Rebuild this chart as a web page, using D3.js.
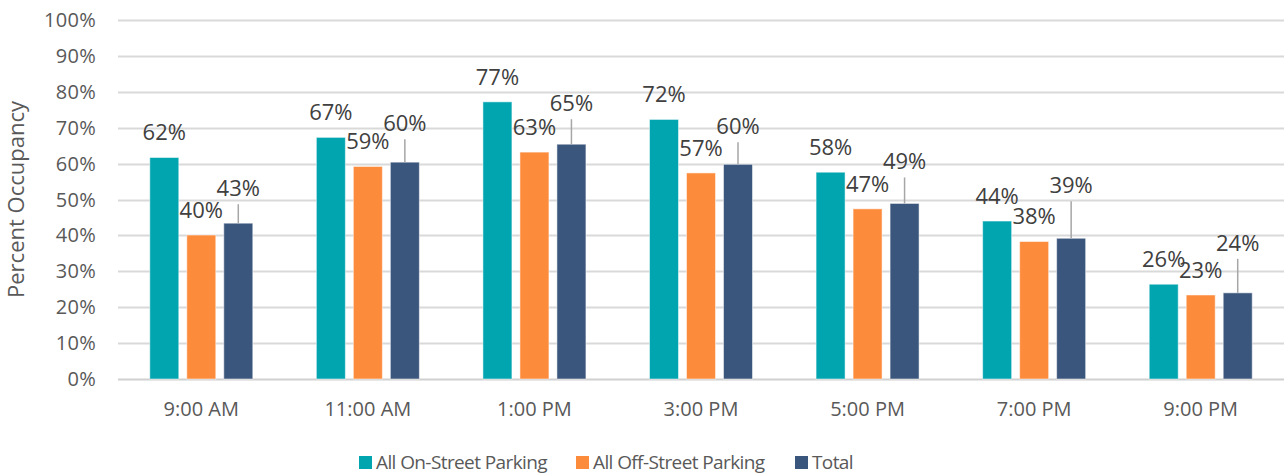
<!DOCTYPE html>
<html>
<head>
<meta charset="utf-8">
<script src="https://cdn.jsdelivr.net/npm/d3@7"></script>
<style>
  body { margin: 0; background: #fff; }
  svg { font-family: "Open Sans", Lato, sans-serif; }
</style>
</head>
<body>
<script>
// chart values
var times = ["9:00 AM", "11:00 AM", "1:00 PM", "3:00 PM", "5:00 PM", "7:00 PM", "9:00 PM"];
var seriesNames = ["All On-Street Parking", "All Off-Street Parking", "Total"];
var onStreet = [61.7, 67.3, 77.2, 72.3, 57.6, 44.0, 26.4];
var offStreet = [40.1, 59.2, 63.2, 57.4, 47.4, 38.3, 23.4];
var total = [43.4, 60.4, 65.4, 59.8, 48.9, 39.2, 24.0];
var yTicks = [0, 10, 20, 30, 40, 50, 60, 70, 80, 90, 100];
// how far the Total labels sit above their bars (leader lines)
var totalLabelLift = [35, 39, 41, 38, 42, 53, 50];

var colors = ["#00a5b0", "#fd8b3c", "#3b567c"];

var width = 1284, height = 475;
var margin = {top: 20, right: 0, bottom: 96, left: 118};

var svg = d3.select("body").append("svg")
    .attr("width", width)
    .attr("height", height);

var x = d3.scaleBand()
    .domain(times)
    .range([margin.left, width - margin.right])
    .paddingInner(0)
    .paddingOuter(0);

var x1 = d3.scaleBand()
    .domain(seriesNames)
    .range([x.bandwidth() / 2 - 51.5, x.bandwidth() / 2 + 51.5])
    .paddingInner(8 / 37)
    .paddingOuter(0);

var y = d3.scaleLinear()
    .domain([0, 100])
    .range([height - margin.bottom, margin.top]);

// gridlines
svg.append("g")
  .selectAll("line")
  .data(yTicks)
  .enter().append("line")
    .attr("x1", margin.left)
    .attr("x2", width - margin.right)
    .attr("y1", d => Math.round(y(d)) + 0.5)
    .attr("y2", d => Math.round(y(d)) + 0.5)
    .attr("stroke", d => d === 0 ? "#d0d0d0" : "#d9d9d9")
    .attr("stroke-width", 2);

// y tick labels
svg.append("g")
  .selectAll("text")
  .data(yTicks)
  .enter().append("text")
    .attr("x", 96)
    .attr("y", d => y(d))
    .attr("dy", "0.35em")
    .attr("text-anchor", "end")
    .attr("fill", "#595959")
    .style("font-size", "20px")
    .style("letter-spacing", "0.3px")
    .text(d => d + "%");

// y axis title
svg.append("text")
  .attr("transform", "translate(24," + (margin.top + (height - margin.bottom - margin.top) / 2) + ") rotate(-90)")
  .attr("text-anchor", "middle")
  .attr("fill", "#595959")
  .style("font-size", "22px")
  .text("Percent Occupancy");

// x labels
svg.append("g")
  .selectAll("text")
  .data(times)
  .enter().append("text")
    .attr("x", d => x(d) + x.bandwidth() / 2)
    .attr("y", 416)
    .attr("text-anchor", "middle")
    .attr("fill", "#595959")
    .style("font-size", "20px")
    .text(d => d);

var series = [onStreet, offStreet, total];

var rows = times.map(function(t, i) {
  return seriesNames.map(function(s, k) {
    return {time: t, name: s, k: k, i: i, value: series[k][i]};
  });
});

var groups = svg.append("g")
  .selectAll("g")
  .data(rows)
  .enter().append("g")
    .attr("transform", (d, i) => "translate(" + x(times[i]) + ",0)");

// bars
groups.selectAll("rect")
  .data(d => d)
  .enter().append("rect")
    .attr("x", d => x1(d.name))
    .attr("y", d => y(d.value))
    .attr("width", x1.bandwidth())
    .attr("height", d => y(0) - y(d.value))
    .attr("fill", d => colors[d.k])
    .attr("stroke", "#ffffff")
    .attr("stroke-opacity", 0.5)
    .attr("stroke-width", 1);

// leader lines for total labels
groups.selectAll("line.leader")
  .data(d => d.filter(e => e.k === 2))
  .enter().append("line")
    .attr("class", "leader")
    .attr("x1", d => x1(d.name) + x1.bandwidth() / 2)
    .attr("x2", d => x1(d.name) + x1.bandwidth() / 2)
    .attr("y1", d => y(d.value))
    .attr("y2", d => y(d.value) - totalLabelLift[d.i] + 16)
    .attr("stroke", "#a6a6a6")
    .attr("stroke-width", 1.5);

// data labels
groups.selectAll("text.lbl")
  .data(d => d)
  .enter().append("text")
    .attr("class", "lbl")
    .attr("x", d => x1(d.name) + x1.bandwidth() / 2)
    .attr("y", d => y(d.value) - (d.k === 2 ? totalLabelLift[d.i] : 25))
    .attr("dy", "0.35em")
    .attr("text-anchor", "middle")
    .attr("fill", "#404040")
    .style("font-size", "22px")
    .text(d => Math.round(d.value) + "%");

// legend
var legendX = [359, 576, 795];
var legend = svg.append("g")
  .selectAll("g")
  .data(seriesNames)
  .enter().append("g")
    .attr("transform", (d, i) => "translate(" + legendX[i] + ",456)");

legend.append("rect")
  .attr("width", 13)
  .attr("height", 13)
  .attr("fill", (d, i) => colors[i]);

legend.append("text")
  .attr("x", 17)
  .attr("y", 6.5)
  .attr("dy", "0.35em")
  .attr("fill", "#595959")
  .style("font-size", "19px")
  .style("letter-spacing", "-0.6px")
  .text(d => d);
</script>
</body>
</html>
